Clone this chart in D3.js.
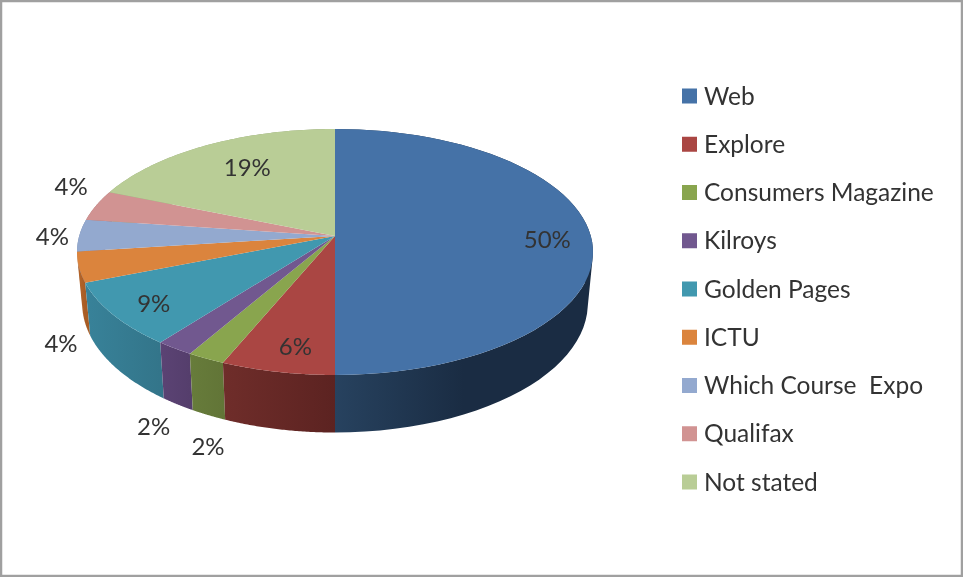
<!DOCTYPE html>
<html>
<head>
<meta charset="utf-8">
<script src="https://cdn.jsdelivr.net/npm/d3@7"></script>
<style>
  html, body { margin: 0; padding: 0; background: #fff; overflow: hidden; }
  svg { display: block; filter: blur(0.7px); }
  text { font-family: Lato, "Open Sans", sans-serif; fill: #333; white-space: pre; }
</style>
</head>
<body>
<div class="chart"></div>
<script>
const width = 963
const height = 577

const categories = ["Web", "Explore", "Consumers Magazine", "Kilroys", "Golden Pages", "ICTU", "Which Course  Expo", "Qualifax", "Not stated"]
const shares = [50, 6.3, 2.1, 2.1, 8.5, 4, 4.2, 4, 18.8]

const topColors = ["#4572a7", "#aa4643", "#89a54e", "#71588f", "#4198af", "#db843d", "#93a9cf", "#d19392", "#b9cd96"]
const wallLight = ["#27425f", "#6f2d2a", "#677c3b", "#5b4374", "#388299", "#b8672a", "#7a8db0", "#ad7a79", "#9aab7d"]
const wallDark = ["#1a2c43", "#5c2321", "#627537", "#553e6c", "#33758a", "#a85c24", "#6f81a0", "#a0706f", "#8d9d72"]

// label placement: how far out along the slice, then a nudge in px
const labelRadius = [0.83, 0.83, 1, 1, 0.85, 1, 1, 1, 0.7]
const labelNudge = [[0, 4], [7, 1], [2, 88], [-21, 78], [5, 2], [-18, 77], [-27, 1], [-25, -19], [5, -3]]

// pie plane seen in perspective, apex sits above the ellipse centre
const apex = [335, 236]
const spanX = 255.8
const spanY = 120.9
const persp = 0.13
// lower rim of the wall, found by eye from the picture
const lowerRim = { sx: 0.98, sy: 1.05, dy: 50.6 }

const project = (angle, r = 1, rim = { sx: 1, sy: 1, dy: 0 }) => {
  const w = 1 + persp * r * Math.cos(angle)
  return [
    apex[0] + rim.sx * spanX * r * Math.sin(angle) / w,
    apex[1] + rim.dy - rim.sy * spanY * r * Math.cos(angle) / w
  ]
}

const arcAngles = (a0, a1) => d3.range(0, 1.0001, 1 / 60).map(t => a0 + (a1 - a0) * t)

const pie = d3.pie().sort(null).value(d => d)
const slices = pie(shares).map((s, i) => ({ ...s, i }))

const svg = d3.select(".chart")
  .append("svg")
  .attr("width", width)
  .attr("height", height)

// outer frame of the picture
svg.append("rect")
  .attr("x", 1)
  .attr("y", 1)
  .attr("width", width - 2)
  .attr("height", height - 2)
  .attr("fill", "white")
  .attr("stroke", "#a0a0a0")
  .attr("stroke-width", 2.5)

const defs = svg.append("defs")
slices.forEach(s => {
  const xs = arcAngles(s.startAngle, s.endAngle).map(a => project(a)[0])
  const grad = defs.append("linearGradient")
    .attr("id", `wall-${s.i}`)
    .attr("gradientUnits", "userSpaceOnUse")
    .attr("x1", d3.min(xs)).attr("x2", d3.max(xs)).attr("y1", 0).attr("y2", 0)
  grad.append("stop").attr("offset", "0").attr("stop-color", wallLight[s.i])
  grad.append("stop").attr("offset", s.i === 0 ? "0.5" : "1").attr("stop-color", wallDark[s.i])
})

const line = d3.line()

// walls, furthest from the viewer first
const wallOrder = slices.slice().sort((a, b) => {
  const front = s => Math.abs((s.startAngle + s.endAngle) / 2 - Math.PI)
  return front(b) - front(a)
})

// one path of small quads, all wound the same way so no seams show
const wallPath = s => d3.pairs(arcAngles(s.startAngle, s.endAngle)).map(q => {
  const quad = [project(q[0]), project(q[1]), project(q[1], 1, lowerRim), project(q[0], 1, lowerRim)]
  if (d3.polygonArea(quad) < 0) quad.reverse()
  return line(quad) + "Z"
}).join("")

svg.append("g")
  .selectAll("path")
  .data(wallOrder)
  .join("path")
  .attr("d", wallPath)
  .attr("fill", s => `url(#wall-${s.i})`)

svg.append("g")
  .selectAll("path")
  .data(slices)
  .join("path")
  .attr("d", s => line([apex].concat(arcAngles(s.startAngle, s.endAngle).map(a => project(a)))) + "Z")
  .attr("fill", s => topColors[s.i])

svg.append("g")
  .selectAll("text")
  .data(slices)
  .join("text")
  .attr("transform", s => {
    const p = project((s.startAngle + s.endAngle) / 2, labelRadius[s.i])
    return `translate(${p[0] + labelNudge[s.i][0]},${p[1] + labelNudge[s.i][1]})`
  })
  .attr("text-anchor", "middle")
  .attr("dy", "0.35em")
  .attr("font-size", 24)
  .text(s => `${Math.round(s.data)}%`)

// legend
const legendY = d3.scalePoint().domain(categories).range([96, 482])

const legend = svg.append("g")
  .selectAll("g")
  .data(categories)
  .join("g")
  .attr("transform", d => `translate(682,${legendY(d)})`)

legend.append("rect")
  .attr("y", -7.5)
  .attr("width", 15)
  .attr("height", 15)
  .attr("fill", (d, i) => topColors[i])

legend.append("text")
  .attr("x", 22)
  .attr("dy", "0.35em")
  .attr("font-size", 24.5)
  .text(d => d)
</script>
</body>
</html>
